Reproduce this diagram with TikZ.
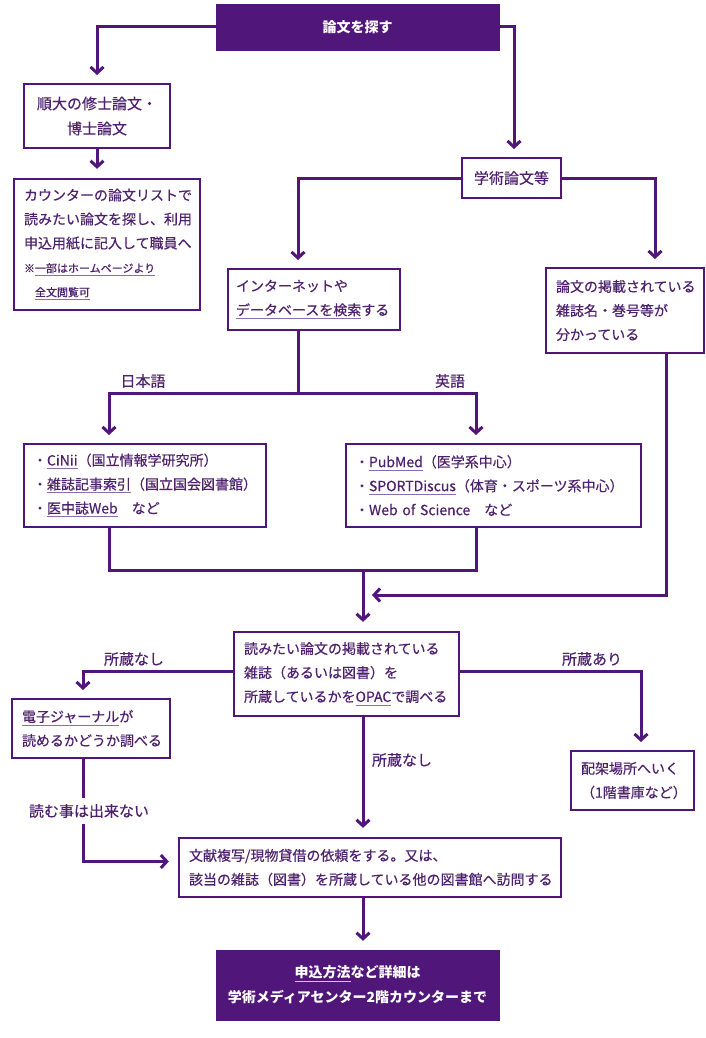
\documentclass[tikz,border=0pt]{standalone}
\usepackage{fontspec}
\setmainfont{Noto Sans CJK JP}[UprightFeatures={FakeBold=0.3}]
\usetikzlibrary{arrows.meta}
\definecolor{pp}{RGB}{81,22,122}
\definecolor{tx}{RGB}{78,32,110}
\definecolor{ulc}{RGB}{140,110,175}
\definecolor{ulw}{RGB}{210,195,230}
\newcommand\ulx[2][ulc]{\mbox{\setbox0\hbox{#2}\rlap{\color{#1}\rule[-4pt]{\wd0}{1.2pt}}\box0}}
\tikzset{
  body/.style={text=tx, font=\fontsize{14}{24}\selectfont},
  lbl/.style={text=tx, font=\fontsize{15}{24}\selectfont, inner sep=1pt},
  box/.style={body, draw=pp, line width=2.3pt, fill=white, inner ysep=0pt, inner xsep=10pt, align=left},
  cbox/.style={box, align=center, inner xsep=0pt, font=\fontsize{15}{25}\selectfont},
  dark/.style={fill=pp, draw=pp, text=white, inner sep=0pt, align=center, font=\fontsize{14}{25}\selectfont\bfseries},
  conn/.style={draw=pp, line width=3pt},
  arr/.style={conn, -{Straight Barb[length=6pt,width=13pt]}, shorten >=9pt},
}
\begin{document}
\begin{tikzpicture}[x=1pt,y=-1pt]
\useasboundingbox (0,0) rectangle (706,1038);
% boxes
\node[dark, minimum width=283, minimum height=46] (top) at (357.5,27) {論文を探す};
\node[cbox, minimum width=146, minimum height=64] (b1) at (97,116) {順大の修士論文・\\博士論文};
\node[box, text width=166, minimum height=131] (b2) at (107,244.5) {カウンターの論文リストで\\読みたい論文を探し、利用\\申込用紙に記入して職員へ\\{\fontsize{11}{24}\selectfont ※\ulx{一部はホームページより}}\\{\fontsize{11}{24}\selectfont\hspace{11pt}\ulx{全文閲覧可}}};
\node[cbox, minimum width=99, minimum height=40] (b3) at (511.5,178) {学術論文等};
\node[box, inner xsep=8pt, text width=156, minimum height=61] (b4) at (314,299.5) {インターネットや\\\ulx{データベースを検索}する};
\node[box, text width=138, minimum height=85] (b5) at (625,310.5) {論文の掲載されている\\雑誌名・巻号等が\\分かっている};
\node[box, inner xsep=9pt, text width=224, minimum height=83] (b6) at (145,485.5) {・\ulx{CiNii}（国立情報学研究所）\\・\ulx{雑誌記事索引}（国立国会図書館）\\・\ulx{医中誌Web}　など};
\node[box, inner xsep=9pt, text width=277, minimum height=83] (b7) at (493.5,485.5) {・\ulx{PubMed}（医学系中心）\\・\ulx{SPORTDiscus}（体育・スポーツ系中心）\\・Web of Science　など};
\node[box, text width=205, minimum height=84] (b8) at (346.5,674) {読みたい論文の掲載されている\\雑誌（あるいは図書）を\\所蔵しているかを\ulx{OPAC}で調べる};
\node[box, text width=138, minimum height=59] (b9) at (91,728.5) {\ulx{電子ジャーナル}が\\読めるかどうか調べる};
\node[box, text width=103, minimum height=59] (b10) at (632.5,780.5) {配架場所へいく\\（1階書庫など）};
\node[box, text width=362, minimum height=59] (b11) at (370,867.5) {文献複写/現物貸借の依頼をする。又は、\\該当の雑誌（図書）を所蔵している他の図書館へ訪問する};
\node[dark, minimum width=283, minimum height=70] (b12) at (357.5,985) {\ulx[ulw]{申込方法}など詳細は\\学術メディアセンター2階カウンターまで};
% coordinates
\coordinate (a1) at (97,84);
\coordinate (a3) at (514,158);
\coordinate (a4) at (298,269);
\coordinate (a5) at (655,268);
\coordinate (j1) at (298,393);
\coordinate (a6) at (109,444);
\coordinate (a7) at (476,444);
\coordinate (j2) at (363,570);
\coordinate (j3) at (666,595);
\coordinate (a9) at (83,699);
\coordinate (a10) at (641,751);
% connectors
\draw[arr] (top.west) -| (a1);
\draw[arr] (b1.south) -- (b1.south |- b2.north);
\draw[arr] (top.east) -| (a3);
\draw[arr] (b3.west) -| (a4);
\draw[arr] (b3.east) -| (a5);
\draw[conn] (b4.south -| j1) -- (j1);
\draw[arr] (j1) -| (a6);
\draw[arr] (j1) -| (a7);
\draw[conn] (b6.south -| a6) |- (j2);
\draw[conn] (b7.south -| a7) |- (j2);
\draw[arr] (j2) -- (j2 |- b8.north);
\draw[arr] (b5.south -| j3) |- (j2 |- j3);
\draw[arr] ([yshift=3pt]b8.west) -| (a9);
\draw[arr] ([yshift=3pt]b8.east) -| (a10);
\draw[arr] (b8.south -| j2) -- (j2 |- b11.north);
\draw[arr] (b9.south -| a9) |- ([yshift=6pt]b11.west);
\draw[arr] (b11.south -| j2) -- (j2 |- b12.north);
% labels
\node[lbl] (l1) at (143,381) {日本語};
\node[lbl] (l2) at (450,381) {英語};
\node[lbl] (l3) at (134,659) {所蔵なし};
\node[lbl] (l4) at (592,659) {所蔵あり};
\node[lbl] (l5) at (402,760) {所蔵なし};
\node[lbl, fill=white, inner xsep=3pt, inner ysep=6pt] (l6) at (89,811) {読む事は出来ない};
\end{tikzpicture}
\end{document}
